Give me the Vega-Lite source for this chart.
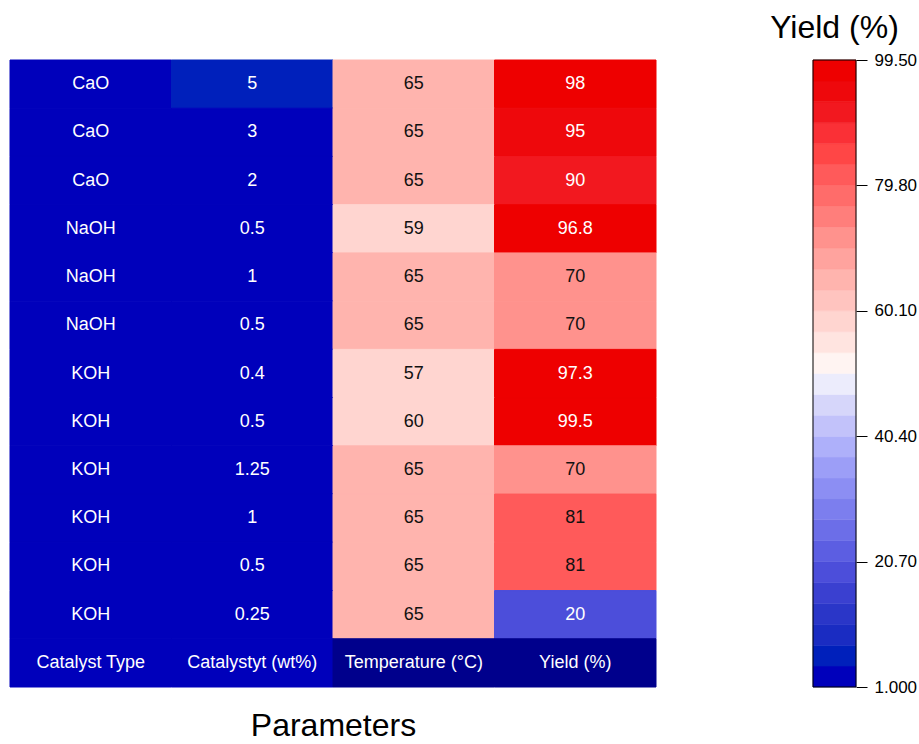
{
  "$schema": "https://vega.github.io/schema/vega-lite/v6.json",
  "background": "white",
  "padding": {"left": 9, "top": 12, "right": 0, "bottom": 0},
  "bounds": "flush",
  "spacing": 157,
  "config": {
    "font": "Liberation Sans",
    "view": {"stroke": null},
    "axis": {"labelFont": "Liberation Sans", "titleFont": "Liberation Sans"},
    "title": {"font": "Liberation Sans"}
  },
  "datasets": {
    "types": [
      {"row": 1, "param": "Catalyst Type", "catalyst": "CaO"},
      {"row": 2, "param": "Catalyst Type", "catalyst": "CaO"},
      {"row": 3, "param": "Catalyst Type", "catalyst": "CaO"},
      {"row": 4, "param": "Catalyst Type", "catalyst": "NaOH"},
      {"row": 5, "param": "Catalyst Type", "catalyst": "NaOH"},
      {"row": 6, "param": "Catalyst Type", "catalyst": "NaOH"},
      {"row": 7, "param": "Catalyst Type", "catalyst": "KOH"},
      {"row": 8, "param": "Catalyst Type", "catalyst": "KOH"},
      {"row": 9, "param": "Catalyst Type", "catalyst": "KOH"},
      {"row": 10, "param": "Catalyst Type", "catalyst": "KOH"},
      {"row": 11, "param": "Catalyst Type", "catalyst": "KOH"},
      {"row": 12, "param": "Catalyst Type", "catalyst": "KOH"}
    ],
    "cells": [
      {"row": 1, "param": "Catalystyt (wt%)", "value": 5},
      {"row": 1, "param": "Temperature (°C)", "value": 65},
      {"row": 1, "param": "Yield (%)", "value": 98},
      {"row": 2, "param": "Catalystyt (wt%)", "value": 3},
      {"row": 2, "param": "Temperature (°C)", "value": 65},
      {"row": 2, "param": "Yield (%)", "value": 95},
      {"row": 3, "param": "Catalystyt (wt%)", "value": 2},
      {"row": 3, "param": "Temperature (°C)", "value": 65},
      {"row": 3, "param": "Yield (%)", "value": 90},
      {"row": 4, "param": "Catalystyt (wt%)", "value": 0.5},
      {"row": 4, "param": "Temperature (°C)", "value": 59},
      {"row": 4, "param": "Yield (%)", "value": 96.8},
      {"row": 5, "param": "Catalystyt (wt%)", "value": 1},
      {"row": 5, "param": "Temperature (°C)", "value": 65},
      {"row": 5, "param": "Yield (%)", "value": 70},
      {"row": 6, "param": "Catalystyt (wt%)", "value": 0.5},
      {"row": 6, "param": "Temperature (°C)", "value": 65},
      {"row": 6, "param": "Yield (%)", "value": 70},
      {"row": 7, "param": "Catalystyt (wt%)", "value": 0.4},
      {"row": 7, "param": "Temperature (°C)", "value": 57},
      {"row": 7, "param": "Yield (%)", "value": 97.3},
      {"row": 8, "param": "Catalystyt (wt%)", "value": 0.5},
      {"row": 8, "param": "Temperature (°C)", "value": 60},
      {"row": 8, "param": "Yield (%)", "value": 99.5},
      {"row": 9, "param": "Catalystyt (wt%)", "value": 1.25},
      {"row": 9, "param": "Temperature (°C)", "value": 65},
      {"row": 9, "param": "Yield (%)", "value": 70},
      {"row": 10, "param": "Catalystyt (wt%)", "value": 1},
      {"row": 10, "param": "Temperature (°C)", "value": 65},
      {"row": 10, "param": "Yield (%)", "value": 81},
      {"row": 11, "param": "Catalystyt (wt%)", "value": 0.5},
      {"row": 11, "param": "Temperature (°C)", "value": 65},
      {"row": 11, "param": "Yield (%)", "value": 81},
      {"row": 12, "param": "Catalystyt (wt%)", "value": 0.25},
      {"row": 12, "param": "Temperature (°C)", "value": 65},
      {"row": 12, "param": "Yield (%)", "value": 20}
    ],
    "headers": [
      {"row": 13, "param": "Catalyst Type"},
      {"row": 13, "param": "Catalystyt (wt%)"},
      {"row": 13, "param": "Temperature (°C)"},
      {"row": 13, "param": "Yield (%)"}
    ],
    "bands": [
      {"lo": 1, "hi": 4.2833, "mid": 2.64},
      {"lo": 4.2833, "hi": 7.5667, "mid": 5.93},
      {"lo": 7.5667, "hi": 10.85, "mid": 9.21},
      {"lo": 10.85, "hi": 14.1333, "mid": 12.49},
      {"lo": 14.1333, "hi": 17.4167, "mid": 15.78},
      {"lo": 17.4167, "hi": 20.7, "mid": 19.06},
      {"lo": 20.7, "hi": 23.9833, "mid": 22.34},
      {"lo": 23.9833, "hi": 27.2667, "mid": 25.63},
      {"lo": 27.2667, "hi": 30.55, "mid": 28.91},
      {"lo": 30.55, "hi": 33.8333, "mid": 32.19},
      {"lo": 33.8333, "hi": 37.1167, "mid": 35.48},
      {"lo": 37.1167, "hi": 40.4, "mid": 38.76},
      {"lo": 40.4, "hi": 43.6833, "mid": 42.04},
      {"lo": 43.6833, "hi": 46.9667, "mid": 45.33},
      {"lo": 46.9667, "hi": 50.25, "mid": 48.61},
      {"lo": 50.25, "hi": 53.5333, "mid": 51.89},
      {"lo": 53.5333, "hi": 56.8167, "mid": 55.18},
      {"lo": 56.8167, "hi": 60.1, "mid": 58.46},
      {"lo": 60.1, "hi": 63.3833, "mid": 61.74},
      {"lo": 63.3833, "hi": 66.6667, "mid": 65.03},
      {"lo": 66.6667, "hi": 69.95, "mid": 68.31},
      {"lo": 69.95, "hi": 73.2333, "mid": 71.59},
      {"lo": 73.2333, "hi": 76.5167, "mid": 74.88},
      {"lo": 76.5167, "hi": 79.8, "mid": 78.16},
      {"lo": 79.8, "hi": 83.0833, "mid": 81.44},
      {"lo": 83.0833, "hi": 86.3667, "mid": 84.73},
      {"lo": 86.3667, "hi": 89.65, "mid": 88.01},
      {"lo": 89.65, "hi": 92.9333, "mid": 91.29},
      {"lo": 92.9333, "hi": 96.2167, "mid": 94.58},
      {"lo": 96.2167, "hi": 99.5, "mid": 97.86}
    ]
  },
  "hconcat": [
    {
      "width": 646,
      "height": 627,
      "encoding": {
        "x": {
          "field": "param",
          "type": "nominal",
          "scale": {
            "domain": ["Catalyst Type", "Catalystyt (wt%)", "Temperature (°C)", "Yield (%)"],
            "paddingInner": 0,
            "paddingOuter": 0
          },
          "axis": {
            "title": "Parameters",
            "titleFontSize": 32,
            "titleFontWeight": "normal",
            "titleColor": "black",
            "titlePadding": 23,
            "labels": false,
            "ticks": false,
            "domain": false
          }
        },
        "y": {
          "field": "row",
          "type": "ordinal",
          "scale": {"paddingInner": 0, "paddingOuter": 0},
          "axis": null
        }
      },
      "layer": [
        {
          "data": {"name": "types"},
          "mark": {"type": "rect", "fill": "#0000BB", "stroke": "#0000BB", "strokeWidth": 1}
        },
        {
          "data": {"name": "cells"},
          "mark": {"type": "rect", "strokeWidth": 1},
          "encoding": {
            "color": {
              "field": "value",
              "type": "quantitative",
              "scale": {
                "type": "quantize",
                "domain": [1, 99.5],
                "nice": false,
                "zero": false,
                "range": ["#0000BB", "#0020BB", "#1A2CC2", "#2A36C8", "#3A40D0", "#4C4EDA", "#5C5EE2", "#6C6EE8", "#7C7EEE", "#8C8EF3", "#9C9EF7", "#AEB0FA", "#C2C2FA", "#D6D6FA", "#ECECFC", "#FFF4F2", "#FFE4E0", "#FFD5D0", "#FFC4BF", "#FFB4AE", "#FFA39E", "#FF928D", "#FF7E7B", "#FF6C6A", "#FF5A5A", "#FF4646", "#FA3036", "#F2181F", "#EE080C", "#EE0000"]
              },
              "legend": null
            },
            "stroke": {
              "field": "value",
              "type": "quantitative",
              "scale": {
                "type": "quantize",
                "domain": [1, 99.5],
                "nice": false,
                "zero": false,
                "range": ["#0000BB", "#0020BB", "#1A2CC2", "#2A36C8", "#3A40D0", "#4C4EDA", "#5C5EE2", "#6C6EE8", "#7C7EEE", "#8C8EF3", "#9C9EF7", "#AEB0FA", "#C2C2FA", "#D6D6FA", "#ECECFC", "#FFF4F2", "#FFE4E0", "#FFD5D0", "#FFC4BF", "#FFB4AE", "#FFA39E", "#FF928D", "#FF7E7B", "#FF6C6A", "#FF5A5A", "#FF4646", "#FA3036", "#F2181F", "#EE080C", "#EE0000"]
              },
              "legend": null
            }
          }
        },
        {
          "data": {"name": "headers"},
          "mark": {"type": "rect", "strokeWidth": 1},
          "encoding": {
            "fill": {
              "field": "param",
              "type": "nominal",
              "scale": {
                "domain": ["Catalyst Type", "Catalystyt (wt%)", "Temperature (°C)", "Yield (%)"],
                "range": ["#0000BB", "#0000BB", "#00008C", "#00008C"]
              },
              "legend": null
            },
            "stroke": {
              "field": "param",
              "type": "nominal",
              "scale": {
                "domain": ["Catalyst Type", "Catalystyt (wt%)", "Temperature (°C)", "Yield (%)"],
                "range": ["#0000BB", "#0000BB", "#00008C", "#00008C"]
              },
              "legend": null
            }
          }
        },
        {
          "data": {"name": "types"},
          "mark": {"type": "text", "color": "white", "fontSize": 18},
          "encoding": {"text": {"field": "catalyst", "type": "nominal"}}
        },
        {
          "data": {"name": "cells"},
          "mark": {"type": "text", "fontSize": 18},
          "encoding": {
            "text": {"field": "value", "type": "quantitative"},
            "color": {
              "condition": {"test": "datum.value < 40 || datum.value > 85", "value": "white"},
              "value": "#111111"
            }
          }
        },
        {
          "data": {"name": "headers"},
          "mark": {"type": "text", "color": "white", "fontSize": 18},
          "encoding": {"text": {"field": "param", "type": "nominal"}}
        }
      ]
    },
    {
      "width": 43,
      "height": 627,
      "title": {
        "text": "Yield (%)",
        "fontSize": 32,
        "fontWeight": "normal",
        "color": "black",
        "anchor": "middle",
        "frame": "group",
        "offset": 6
      },
      "data": {"name": "bands"},
      "encoding": {
        "y": {
          "field": "lo",
          "type": "quantitative",
          "scale": {"domain": [1, 99.5], "nice": false, "zero": false},
          "axis": {
            "orient": "right",
            "values": [1, 20.7, 40.4, 60.1, 79.8, 99.5],
            "format": ".4r",
            "title": null,
            "grid": false,
            "domain": false,
            "tickSize": 11,
            "tickColor": "black",
            "labelFontSize": 17,
            "labelColor": "black",
            "labelPadding": 7
          }
        }
      },
      "layer": [
        {
          "mark": {"type": "rect", "strokeWidth": 0.5},
          "encoding": {
            "y2": {"field": "hi"},
            "color": {
              "field": "mid",
              "type": "quantitative",
              "scale": {
                "type": "quantize",
                "domain": [1, 99.5],
                "nice": false,
                "zero": false,
                "range": ["#0000BB", "#0020BB", "#1A2CC2", "#2A36C8", "#3A40D0", "#4C4EDA", "#5C5EE2", "#6C6EE8", "#7C7EEE", "#8C8EF3", "#9C9EF7", "#AEB0FA", "#C2C2FA", "#D6D6FA", "#ECECFC", "#FFF4F2", "#FFE4E0", "#FFD5D0", "#FFC4BF", "#FFB4AE", "#FFA39E", "#FF928D", "#FF7E7B", "#FF6C6A", "#FF5A5A", "#FF4646", "#FA3036", "#F2181F", "#EE080C", "#EE0000"]
              },
              "legend": null
            },
            "stroke": {
              "field": "mid",
              "type": "quantitative",
              "scale": {
                "type": "quantize",
                "domain": [1, 99.5],
                "nice": false,
                "zero": false,
                "range": ["#0000BB", "#0020BB", "#1A2CC2", "#2A36C8", "#3A40D0", "#4C4EDA", "#5C5EE2", "#6C6EE8", "#7C7EEE", "#8C8EF3", "#9C9EF7", "#AEB0FA", "#C2C2FA", "#D6D6FA", "#ECECFC", "#FFF4F2", "#FFE4E0", "#FFD5D0", "#FFC4BF", "#FFB4AE", "#FFA39E", "#FF928D", "#FF7E7B", "#FF6C6A", "#FF5A5A", "#FF4646", "#FA3036", "#F2181F", "#EE080C", "#EE0000"]
              },
              "legend": null
            }
          }
        },
        {
          "mark": {"type": "rect", "fill": null, "stroke": "black", "strokeWidth": 1},
          "encoding": {
            "y": {"aggregate": "min", "field": "lo", "type": "quantitative"},
            "y2": {"aggregate": "max", "field": "hi"}
          }
        }
      ]
    }
  ]
}
